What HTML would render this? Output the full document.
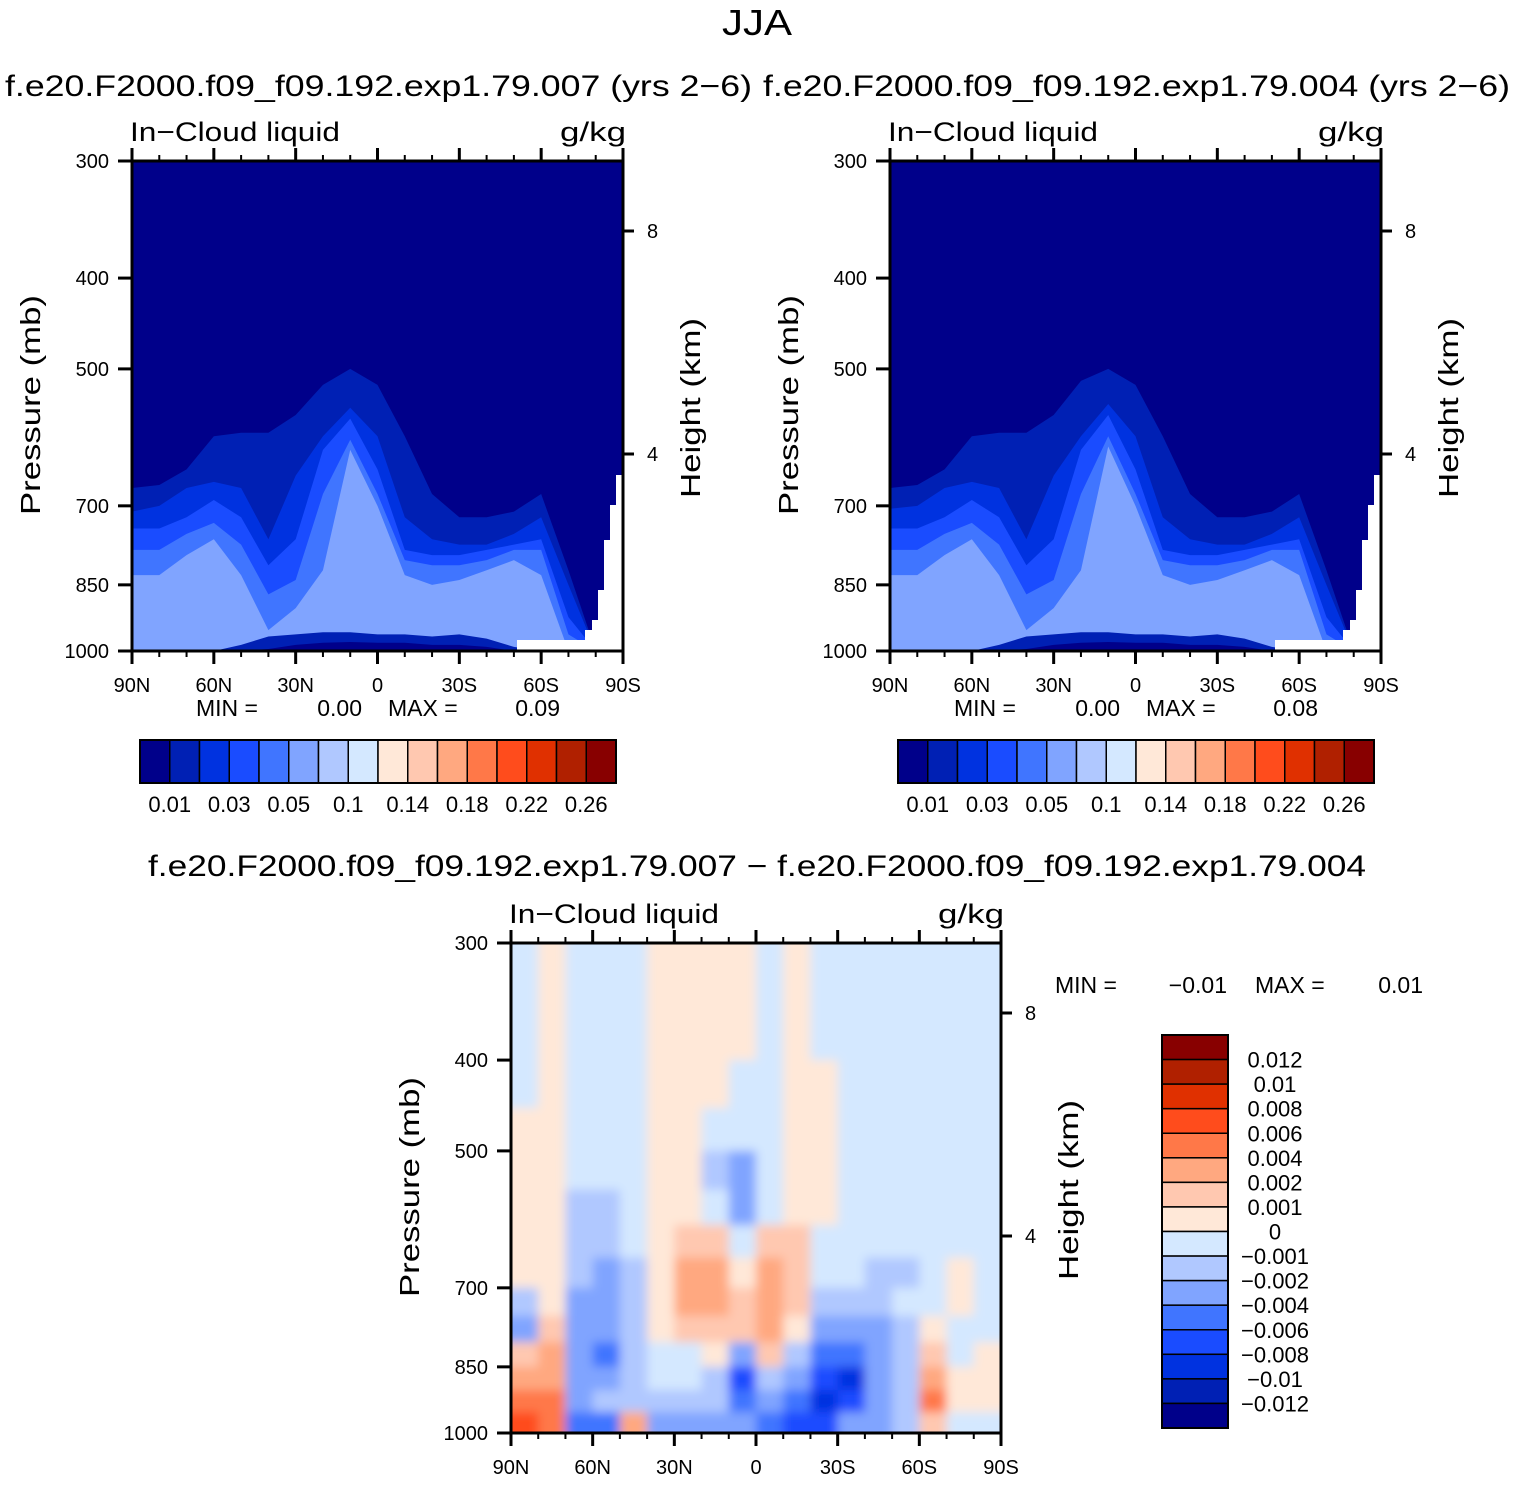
<!DOCTYPE html>
<html><head><meta charset="utf-8"><style>
body{margin:0;background:#fff;}
svg text{font-family:"Liberation Sans",sans-serif;fill:#000;white-space:pre;}
</style></head><body>
<svg id="fig" width="1514" height="1480" viewBox="0 0 1514 1480" xmlns="http://www.w3.org/2000/svg">
<defs><filter id="blur" x="-5%" y="-5%" width="110%" height="110%"><feGaussianBlur stdDeviation="5"/></filter></defs>
<text x="757" y="35" font-size="36" text-anchor="middle" textLength="70" lengthAdjust="spacingAndGlyphs">JJA</text>
<text x="5" y="96" font-size="30" textLength="747" lengthAdjust="spacingAndGlyphs">f.e20.F2000.f09_f09.192.exp1.79.007 (yrs 2−6)</text>
<text x="763" y="96" font-size="30" textLength="747" lengthAdjust="spacingAndGlyphs">f.e20.F2000.f09_f09.192.exp1.79.004 (yrs 2−6)</text>
<text x="148" y="876" font-size="30" textLength="1218" lengthAdjust="spacingAndGlyphs">f.e20.F2000.f09_f09.192.exp1.79.007 − f.e20.F2000.f09_f09.192.exp1.79.004</text>
<g id="p1"></g>
<g id="p2"></g>
<g id="p3"></g>
<g font-size="23">
<text x="196" y="716">MIN =</text><text x="362" y="716" text-anchor="end">0.00</text><text x="388" y="716">MAX =</text><text x="560" y="716" text-anchor="end">0.09</text></g>
<g font-size="23">
<text x="954" y="716">MIN =</text><text x="1120" y="716" text-anchor="end">0.00</text><text x="1146" y="716">MAX =</text><text x="1318" y="716" text-anchor="end">0.08</text></g>
<g font-size="23">
<text x="1055" y="993">MIN =</text><text x="1227" y="993" text-anchor="end">−0.01</text><text x="1255" y="993">MAX =</text><text x="1423" y="993" text-anchor="end">0.01</text></g>
</svg>
<script>
const NS="http://www.w3.org/2000/svg";
const lats=[90,80,70,60,50,40,30,20,10,0,-10,-20,-30,-40,-50,-60,-70,-80,-90];
const band2Top=[670,665,640,590,585,585,560,520,500,520,590,680,720,720,710,680,820,1000,1000];
const band3Top=[710,700,670,660,670,760,650,590,550,590,720,760,770,770,750,720,850,1000,1000];
const band4Top=[740,740,720,690,720,810,760,610,565,640,780,790,790,780,770,760,920,1000,1000];
const band5Top=[780,780,750,730,770,870,840,680,595,680,800,810,810,800,780,780,960,1000,1000];
const band6Top=[830,830,790,760,830,950,900,820,610,700,830,850,840,820,800,830,1000,1000,1000];
const surf2Top=[1000,1000,1000,1000,985,965,960,955,955,960,960,965,960,970,990,1000,1000,1000,1000];
const surf1Top=[1000,1000,1000,1000,1000,995,985,980,978,980,980,985,985,990,1000,1000,1000,1000,1000];
const band2TopR=[670,665,640,590,585,585,560,515,500,520,590,680,720,720,710,680,820,1000,1000];
const band3TopR=[705,700,670,660,670,760,650,590,545,590,720,760,770,770,750,720,850,1000,1000];
const band4TopR=[740,740,720,690,720,810,760,610,560,640,780,790,790,780,770,760,920,1000,1000];
const band5TopR=[780,780,750,730,770,870,840,680,590,680,800,810,810,800,780,780,960,1000,1000];
const band6TopR=[830,830,790,760,830,950,900,820,605,700,830,850,840,820,800,830,1000,1000,1000];
const cbColors=["#00008a","#0020b4","#0032e0","#1a4cff","#4075ff","#80a4ff","#b0c8ff","#d4e8ff","#ffe8d8","#ffc8b0","#ffa880","#ff7848","#ff4c1c","#e03000","#b02000","#880000"];
const cbLabels=["0.01","0.03","0.05","0.1","0.14","0.18","0.22","0.26"];
const diffLevels=[-12,-10,-8,-6,-4,-2,-1,0,1,2,4,6,8,10,12];
const diffLabels=["0.012","0.01","0.008","0.006","0.004","0.002","0.001","0","−0.001","−0.002","−0.004","−0.006","−0.008","−0.01","−0.012"];
const diffLats=[85,75,65,55,45,35,25,15,5,-5,-15,-25,-35,-45,-55,-65,-75,-85];
const diffP=[300,350,400,450,500,550,600,650,700,750,800,850,900,950,1000];
const diffVals=[
[-.5,.5,-.5,-.5,-.5,.5,.5,.5,.5,-.5,.5,-.5,-.5,-.5,-.5,-.5,-.5,-.5],
[-.5,.5,-.5,-.5,-.5,.5,.5,.5,.5,-.5,.5,-.5,-.5,-.5,-.5,-.5,-.5,-.5],
[-.5,.5,-.5,-.5,-.5,.5,.5,.5,-.5,-.5,.5,.5,-.5,-.5,-.5,-.5,-.5,-.5],
[.5,.5,-.5,-.5,-.5,.5,.5,-.5,-.5,-.5,.5,.5,-.5,-.5,-.5,-.5,-.5,-.5],
[.5,.5,-.5,-.5,-.5,.5,.5,-1.5,-3,-.5,.5,.5,-.5,-.5,-.5,-.5,-.5,-.5],
[.5,.5,-1.5,-1.5,-.5,.5,.5,-.5,-3,-.5,.5,.5,-.5,-.5,-.5,-.5,-.5,-.5],
[.5,.5,-1.5,-1.5,-.5,.5,1.5,1.5,-.5,1.5,1.5,-.5,-.5,-.5,-.5,-.5,-.5,-.5],
[.5,.5,-1.5,-3,-1.5,.5,3,3,.5,3,1.5,-.5,-.5,-1.5,-1.5,-.5,.5,-.5],
[-1.5,.5,-3,-3,-1.5,.5,3,3,1.5,3,1.5,-1.5,-1.5,-1.5,-.5,-.5,.5,-.5],
[-3,1.5,-3,-3,-1.5,.5,1.5,1.5,1.5,3,.5,-3,-3,-3,-1.5,.5,-.5,-.5],
[1.5,3,-3,-5,-1.5,-.5,-.5,.5,-3,1.5,-1.5,-5,-5,-3,-1.5,1.5,-.5,.5],
[3,3,-3,-3,-1.5,-.5,-.5,-1.5,-7,-1.5,-3,-7,-9,-3,-1.5,3,.5,.5],
[5,5,-3,-1.5,-1.5,-1.5,-1.5,-1.5,-5,-3,-5,-9,-7,-3,-1.5,5,.5,.5],
[7,5,-5,-5,3,-3,-3,-3,-3,-5,-7,-7,-3,-3,-1.5,1.5,-.5,-.5]];
const latTicks=[90,60,30,0,-30,-60,-90];
const latTickLabels=["90N","60N","30N","0","30S","60S","90S"];
const pTicks=[300,400,500,700,850,1000];

function mk(parent,tag,attrs,txt){const e=document.createElementNS(NS,tag);for(const k in attrs)e.setAttribute(k,attrs[k]);if(txt!==undefined)e.textContent=txt;parent.appendChild(e);return e;}
function colorFor(v){let i=0;while(i<diffLevels.length&&v>diffLevels[i])i++;return cbColors[i];}

function panel(g,X,Y,W,H,bands,diff){
  const xs=lat=>X+(90-lat)/180*W;
  const ys=p=>Y+H*Math.log(p/300)/Math.log(1000/300);
  const clipId="c"+X+"_"+Y;
  const cp=mk(g,"clipPath",{id:clipId});mk(cp,"rect",{x:X,y:Y,width:W,height:H});
  const fg=mk(g,"g",{"clip-path":"url(#"+clipId+")"});
  if(!diff){
    const bg=mk(fg,"rect",{x:X,y:Y,width:W,height:H,fill:cbColors[0]});
    
    
    bands.forEach(([arr,ci],bi)=>{
      let d="M"+xs(lats[0])+","+ys(1000);
      lats.forEach((la,i)=>{d+=" L"+xs(la)+","+ys(arr[i]);});
      d+=" L"+xs(lats[lats.length-1])+","+ys(1000)+" Z";
      const p=mk(fg,"path",{d:d,fill:cbColors[ci]});
      
      
    });
    const m=mk(fg,"path",{d:`M${X+W-7},${Y+H}V${Y+314}h7V${Y+H}Z M${X+W-13},${Y+H}V${Y+344}h13V${Y+H}Z M${X+W-19},${Y+H}V${Y+379}h19V${Y+H}Z M${X+W-25},${Y+H}V${Y+429}h25V${Y+H}Z M${X+W-31},${Y+H}V${Y+459}h31V${Y+H}Z M${X+W-38},${Y+H}V${Y+469}h38V${Y+H}Z M${X+W-106},${Y+H}V${Y+479}h106V${Y+H}Z`,fill:"#fff"});
    
    
  } else {
    mk(fg,"rect",{x:X,y:Y,width:W,height:H,fill:cbColors[7]});
    const bl=mk(fg,"g",{filter:"url(#blur)"});
    diffVals.forEach((row,r)=>{
      row.forEach((v,c)=>{
        let x0=xs(diffLats[c]+5),x1=xs(diffLats[c]-5),y0=ys(diffP[r]),y1=ys(diffP[r+1]);
        if(c===0)x0-=20; if(c===row.length-1)x1+=20; if(r===0)y0-=20; if(r===diffVals.length-1)y1+=20;
        const cell=mk(bl,"rect",{x:x0,y:y0,width:x1-x0+0.6,height:y1-y0+0.6,fill:colorFor(v)});
        
        
      });
    });
  }
  const ax=mk(g,"rect",{x:X,y:Y,width:W,height:H,fill:"none",stroke:"#000","stroke-width":3});
  
  
  for(let la=90;la>=-90;la-=10){
    const maj=la%30===0,L=maj?13:6,x=xs(la);
    mk(g,"line",{x1:x,x2:x,y1:Y,y2:Y-L,stroke:"#000","stroke-width":maj?3:2});
    mk(g,"line",{x1:x,x2:x,y1:Y+H,y2:Y+H+L,stroke:"#000","stroke-width":maj?3:2});
  }
  latTicks.forEach((la,i)=>{const t=mk(g,"text",{x:xs(la),y:Y+H+41,"font-size":20,"text-anchor":"middle"},latTickLabels[i]);
    });
  pTicks.forEach(p=>{const y=ys(p);mk(g,"line",{x1:X-14,x2:X,y1:y,y2:y,stroke:"#000","stroke-width":3});
    const t=mk(g,"text",{x:X-23,y:y+7,"font-size":20,"text-anchor":"end"},String(p));
    });
  [[8,70],[4,293]].forEach(([km,off])=>{mk(g,"line",{x1:X+W,x2:X+W+11,y1:Y+off,y2:Y+off,stroke:"#000","stroke-width":3});
    const t=mk(g,"text",{x:X+W+24,y:Y+off+7,"font-size":20},String(km));
    });
  const yl=mk(g,"text",{x:0,y:0,"font-size":28,"text-anchor":"middle",transform:`translate(${X-92},${Y+244}) rotate(-90)`,textLength:220,lengthAdjust:"spacingAndGlyphs"},"Pressure (mb)");
  
  const yr=mk(g,"text",{x:0,y:0,"font-size":28,"text-anchor":"middle",transform:`translate(${X+W+77},${Y+247}) rotate(-90)`,textLength:180,lengthAdjust:"spacingAndGlyphs"},"Height (km)");
  
  const vl=mk(g,"text",{x:X-2,y:Y-20,"font-size":27,textLength:210,lengthAdjust:"spacingAndGlyphs"},"In−Cloud liquid");
  
  const ul=mk(g,"text",{x:X+W+3,y:Y-20,"font-size":27,"text-anchor":"end",textLength:66,lengthAdjust:"spacingAndGlyphs"},"g/kg");
  
}
function hbar(X){
  const g=mk(document.getElementById("fig"),"g",{});
  
  
  const w=476/16;
  cbColors.forEach((c,i)=>{mk(g,"rect",{x:X+i*w,y:740,width:w,height:43,fill:c,stroke:"#000","stroke-width":1.5});});
  mk(g,"rect",{x:X,y:740,width:476,height:43,fill:"none",stroke:"#000","stroke-width":2});
  cbLabels.forEach((l,i)=>{const t=mk(g,"text",{x:X+(2*i+1)*w,y:812,"font-size":22,"text-anchor":"middle"},l);
    });
}
function vbar(){
  const g=mk(document.getElementById("fig"),"g",{});
  
  
  const h=393/16;
  cbColors.slice().reverse().forEach((c,i)=>{mk(g,"rect",{x:1162,y:1035+i*h,width:66,height:h,fill:c,stroke:"#000","stroke-width":1.5});});
  mk(g,"rect",{x:1162,y:1035,width:66,height:393,fill:"none",stroke:"#000","stroke-width":2});
  diffLabels.forEach((l,i)=>{const t=mk(g,"text",{x:1275,y:1035+(i+1)*h+8,"font-size":22,"text-anchor":"middle"},l);
    });
}
panel(document.getElementById("p1"),132,161,491,490,[[band2Top,1],[band3Top,2],[band4Top,3],[band5Top,4],[band6Top,5],[surf2Top,1],[surf1Top,0]],false);
panel(document.getElementById("p2"),890,161,491,490,[[band2TopR,1],[band3TopR,2],[band4TopR,3],[band5TopR,4],[band6TopR,5],[surf2Top,1],[surf1Top,0]],false);
panel(document.getElementById("p3"),511,943,490,490,null,true);
hbar(140);hbar(898);vbar();
</script>
</body></html>
